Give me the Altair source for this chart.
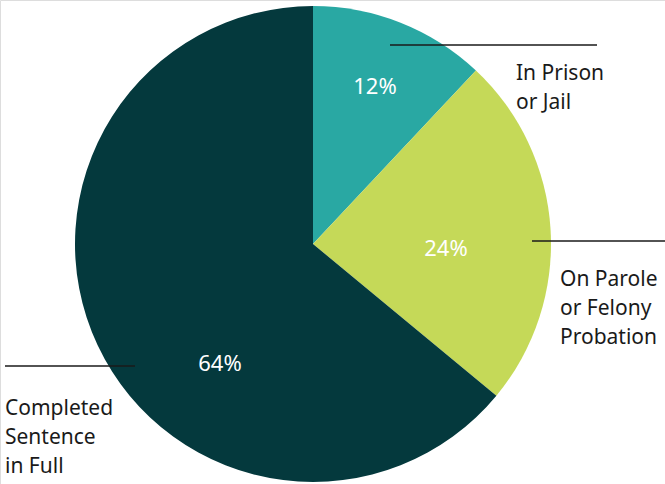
import altair as alt
import pandas as pd

categories = ["In Prison or Jail", "On Parole or Felony Probation", "Completed Sentence in Full"]
values = [12, 24, 64]
colors = ["#29a8a3", "#c5d958", "#04393d"]
pct_labels = ["12%", "24%", "64%"]
cat_labels = ["In Prison\nor Jail", "On Parole\nor Felony\nProbation", "Completed\nSentence\nin Full"]

df = pd.DataFrame({"category": categories, "value": values, "order": [0, 1, 2]})

FONT = "Noto Sans"
CX, CY, R = 313, 244, 238

pie = alt.Chart(df).mark_arc(radius=R, stroke=None).encode(
    theta=alt.Theta("value:Q", stack=True),
    order=alt.Order("order:Q"),
    color=alt.Color("category:N", scale=alt.Scale(domain=categories, range=colors), legend=None),
    x=alt.value(CX),
    y=alt.value(CY),
)

layers = [pie]

# leader lines
leaders = [(390, 597, 45), (532, 665, 241), (5, 135, 366)]
for x1, x2, yy in leaders:
    layers.append(
        alt.Chart(df).mark_rule(color="#1a1a1a", strokeWidth=1.3).encode(
            x=alt.value(x1), x2=alt.value(x2), y=alt.value(yy)
        ).transform_filter(alt.datum.order == 0)
    )

# percentage labels
pct_pos = [(375, 87), (446, 249), (220, 364)]
for i, (px, py) in enumerate(pct_pos):
    layers.append(
        alt.Chart(df).mark_text(font=FONT, fontSize=22, color="white", align="center",
                                baseline="middle").encode(
            x=alt.value(px), y=alt.value(py), text=alt.value(pct_labels[i])
        ).transform_filter(alt.datum.order == i)
    )

# category labels
cat_pos = [(516, 80), (560, 286), (5, 415)]
for i, (px, py) in enumerate(cat_pos):
    layers.append(
        alt.Chart(df).mark_text(font=FONT, fontSize=21, color="#1a1a1a", align="left",
                                baseline="alphabetic", lineBreak="\n", lineHeight=29).encode(
            x=alt.value(px), y=alt.value(py), text=alt.value(cat_labels[i])
        ).transform_filter(alt.datum.order == i)
    )

chart = alt.layer(*layers).properties(
    width=665, height=484, padding=0, autosize=alt.AutoSizeParams(type="none")
).configure_view(stroke=None).configure(background="white")

chart.save("out.html", embed_options={"renderer": "svg", "actions": False})
